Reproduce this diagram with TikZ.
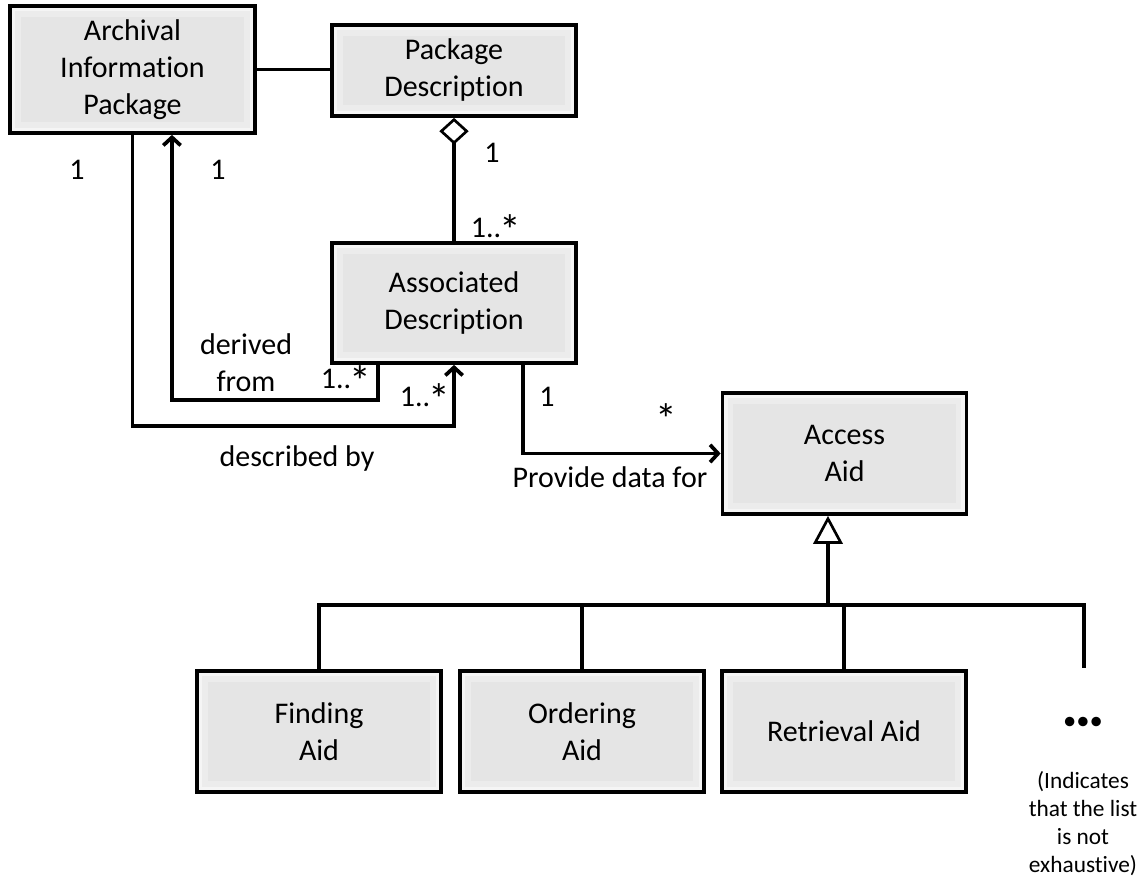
\documentclass[tikz,border=0pt]{standalone}
\usepackage{fontspec}
\setmainfont{Carlito}[Ligatures=CommonOff]
\usetikzlibrary{arrows.meta}
\newcommand\many{\kern-0.06em\raisebox{-0.27em}{\scalebox{1.45}{*}}}
\begin{document}
\begin{tikzpicture}[x=0.75pt, y=-0.75pt,
umlbox/.style={draw, line width=2.8pt, fill=gray!20, align=center, inner sep=0pt, minimum width=183pt, minimum height=90.75pt, font=\fontsize{22.5}{27.75}\selectfont, path picture={\draw[white, line width=16pt, opacity=0.3] (path picture bounding box.south west) rectangle (path picture bounding box.north east); \draw[white, line width=8pt, opacity=0.5] (path picture bounding box.south west) rectangle (path picture bounding box.north east);}},
lbl/.style={align=center, inner sep=0pt, font=\fontsize{22.5}{27.75}\selectfont},
note/.style={align=center, inner sep=0pt, font=\fontsize{17.5}{20.8}\selectfont},
conn/.style={line width=2.8pt},
barb/.style={-{Straight Barb[length=6pt, width=13pt]}},
agg/.style={{Diamond[open, fill=white, length=20pt, width=22pt, line width=2pt]}-},
gen/.style={{Triangle[open, fill=white, length=21pt, width=22pt, line width=2pt]}-}]
\useasboundingbox (0,0) rectangle (1145,877);
\node[umlbox, minimum width=183.75pt, minimum height=95.25pt] (aip) at (132.5,69.5){Archival\\Information\\Package};
\node[umlbox, minimum height=68.25pt] (pkd) at (454,70.5){Package\\Description};
\node[umlbox, minimum height=90pt] (asd) at (454,303){Associated\\Description};
\node[umlbox] (acc) at (844.5,453.5){Access\\Aid};
\node[umlbox] (fnd) at (319,731.5){Finding\\Aid};
\node[umlbox] (ord) at (582,731.5){Ordering\\Aid};
\node[umlbox] (ret) at (844,731.5){Retrieval Aid};
\node[lbl, font=\fontsize{20}{24}\selectfont] (more) at (1083,723){\textbullet\textbullet\textbullet};
\node[note] (moretxt) at (1083,823.5){(Indicates\\that the list\\is not\\exhaustive)};
\coordinate (bus) at (828,605);
\coordinate (etc) at (1084,668);
\draw[conn](aip.east) -- (aip.east -| pkd.west);
\draw[conn, agg](pkd.south) -- (asd.north);
\draw[conn, barb]([xshift=-57pt]asd.south) -- ++(0,35) -| ([xshift=29.6pt]aip.south);
\draw[conn, barb](aip.south) -- ++(0,291) -| (asd.south);
\draw[conn, barb]([xshift=51.75pt]asd.south) |- (acc.west);
\draw[conn, gen]([xshift=-12.4pt]acc.south) -- (bus);
\draw[conn](fnd.north) |- (etc |- bus) -- (etc);
\draw[conn](ord.north) -- (ord.north |- bus);
\draw[conn](ret.north) -- (ret.north |- bus);
\node[lbl] (m1) at (77,170){1};
\node[lbl] (m2) at (218,170){1};
\node[lbl] (m3) at (492,153){1};
\node[lbl] (m4) at (496,230){1..\many};
\node[lbl] (m5) at (346,381){1..\many};
\node[lbl] (m6) at (425,399){1..\many};
\node[lbl] (m7) at (547,397){1};
\node[lbl] (m8) at (667,419){\many};
\node[lbl] (r1) at (246,362.5){derived\\from};
\node[lbl] (r2) at (297,458){described by};
\node[lbl] (r3) at (610,477){Provide data for};
\end{tikzpicture}
\end{document}
